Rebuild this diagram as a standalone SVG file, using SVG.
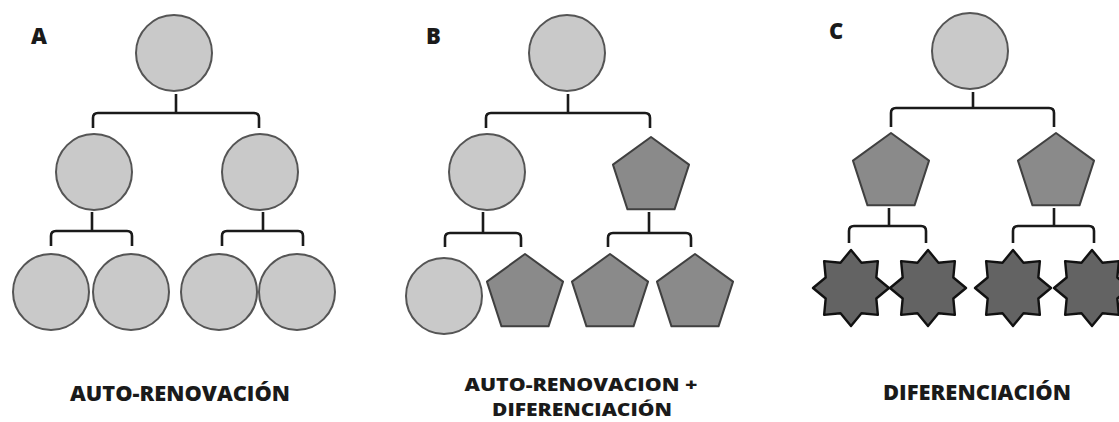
<svg xmlns="http://www.w3.org/2000/svg" xmlns:xlink="http://www.w3.org/1999/xlink" width="1119" height="422" viewBox="0 0 1119 422">
  <style>
    .cell { fill: #c9c9c9; stroke: #555555; stroke-width: 2; }
    .pent { fill: #8a8a8a; stroke: #404040; stroke-width: 2; stroke-linejoin: round; }
    .star { fill: #636363; stroke: #111111; stroke-width: 2.4; stroke-linejoin: round; }
    .link { fill: none; stroke: #1a1a1a; stroke-width: 2.6; stroke-linecap: butt; stroke-linejoin: round; }
    .tag { font-family: "Open Sans", "Liberation Sans", sans-serif; font-weight: 800; font-size: 22px; fill: #1a1a1a; }
    .caption { font-family: "Open Sans", "Liberation Sans", sans-serif; font-weight: 800; font-size: 21px; fill: #1a1a1a; text-anchor: middle; }
    .caption.two-line { font-size: 18px; }
  </style>
  <defs>
    <!-- regular pentagon, circumradius 40, centred on the origin -->
    <polygon id="pentagon" points="0,-40 38.04,-12.36 23.51,32.36 -23.51,32.36 -38.04,-12.36"/>
    <!-- eight-pointed star, outer radius 38 -->
    <polygon id="star8" points="0,-38 10.48,-25.31 26.87,-26.87 25.31,-10.48 38,0 25.31,10.48 26.87,26.87 10.48,25.31 0,38 -10.48,25.31 -26.87,26.87 -25.31,10.48 -38,0 -25.31,-10.48 -26.87,-26.87 -10.48,-25.31"/>
  </defs>

  <rect width="1119" height="422" fill="#ffffff"/>

  <!-- connectors: bracket-shaped splits from parent to daughters -->
  <g id="connectors" class="link">
    <!-- A -->
    <path d="M176,94 V113 M93,128 V118 Q93,113 98,113 H254 Q259,113 259,118 V128"/>
    <path d="M92,212 V231 M51,246 V236 Q51,231 56,231 H127 Q132,231 132,236 V246"/>
    <path d="M263,212 V231 M222,246 V236 Q222,231 227,231 H298 Q303,231 303,236 V246"/>
    <!-- B -->
    <path d="M568,94 V113 M486,128 V118 Q486,113 491,113 H645 Q650,113 650,118 V128"/>
    <path d="M483,212 V233 M445,247 V238 Q445,233 450,233 H516 Q521,233 521,238 V247"/>
    <path d="M649,212 V233 M608,247 V238 Q608,233 613,233 H686 Q691,233 691,238 V247"/>
    <!-- C -->
    <path d="M973,92 V108 M891,127 V113 Q891,108 896,108 H1049 Q1054,108 1054,113 V127"/>
    <path d="M889,208 V226 M849,243 V231 Q849,226 854,226 H921 Q926,226 926,231 V243"/>
    <path d="M1054,208 V226 M1013,243 V231 Q1013,226 1018,226 H1089 Q1094,226 1094,231 V243"/>
  </g>

  <!-- Panel A: self-renewal -->
  <g id="panel-a">
    <text class="tag" x="31" y="44">A</text>
    <g id="a-root"><circle class="cell" cx="174" cy="53" r="38"/></g>
    <g id="a-mid-1"><circle class="cell" cx="94" cy="172" r="38"/></g>
    <g id="a-mid-2"><circle class="cell" cx="260" cy="172" r="38"/></g>
    <g id="a-leaf-1"><circle class="cell" cx="51" cy="292" r="38"/></g>
    <g id="a-leaf-2"><circle class="cell" cx="131" cy="292" r="38"/></g>
    <g id="a-leaf-3"><circle class="cell" cx="219" cy="292" r="38"/></g>
    <g id="a-leaf-4"><circle class="cell" cx="297" cy="292" r="38"/></g>
    <text class="caption" x="180" y="401" textLength="220" lengthAdjust="spacingAndGlyphs">AUTO-RENOVACIÓN</text>
  </g>

  <!-- Panel B: self-renewal + differentiation -->
  <g id="panel-b">
    <text class="tag" x="426" y="44">B</text>
    <g id="b-root"><circle class="cell" cx="567" cy="53" r="38"/></g>
    <g id="b-mid-1"><circle class="cell" cx="487" cy="172" r="38"/></g>
    <g id="b-mid-2"><use class="pent" xlink:href="#pentagon" href="#pentagon" x="651" y="177"/></g>
    <g id="b-leaf-1"><circle class="cell" cx="444" cy="296" r="38"/></g>
    <g id="b-leaf-2"><use class="pent" xlink:href="#pentagon" href="#pentagon" x="525" y="294"/></g>
    <g id="b-leaf-3"><use class="pent" xlink:href="#pentagon" href="#pentagon" x="610" y="294"/></g>
    <g id="b-leaf-4"><use class="pent" xlink:href="#pentagon" href="#pentagon" x="695" y="294"/></g>
    <text class="caption two-line" x="581" y="391" textLength="233" lengthAdjust="spacingAndGlyphs">AUTO-RENOVACION +</text>
    <text class="caption two-line" x="582" y="416" textLength="180" lengthAdjust="spacingAndGlyphs">DIFERENCIACIÓN</text>
  </g>

  <!-- Panel C: differentiation -->
  <g id="panel-c">
    <text class="tag" x="829" y="39">C</text>
    <g id="c-root"><circle class="cell" cx="970" cy="51" r="38"/></g>
    <g id="c-mid-1"><use class="pent" xlink:href="#pentagon" href="#pentagon" x="891" y="173"/></g>
    <g id="c-mid-2"><use class="pent" xlink:href="#pentagon" href="#pentagon" x="1056" y="173"/></g>
    <g id="c-leaf-1"><use class="star" xlink:href="#star8" href="#star8" x="851" y="288"/></g>
    <g id="c-leaf-2"><use class="star" xlink:href="#star8" href="#star8" x="928" y="288"/></g>
    <g id="c-leaf-3"><use class="star" xlink:href="#star8" href="#star8" x="1013" y="288"/></g>
    <g id="c-leaf-4"><use class="star" xlink:href="#star8" href="#star8" x="1092" y="288"/></g>
    <text class="caption" x="977" y="400" textLength="188" lengthAdjust="spacingAndGlyphs">DIFERENCIACIÓN</text>
  </g>
</svg>
